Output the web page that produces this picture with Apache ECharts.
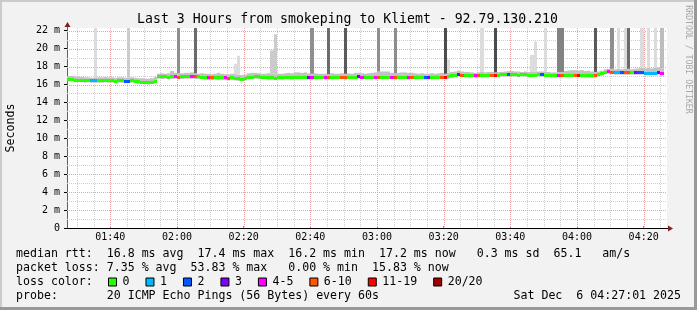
<!DOCTYPE html>
<html><head><meta charset="utf-8">
<script src="https://cdn.jsdelivr.net/npm/echarts@6/dist/echarts.min.js"></script>
<style>html,body{margin:0;padding:0;background:#f2f2f2}#c{width:697px;height:310px}</style>
</head><body><div id="c"></div><script>
// ---------------- data ----------------
const startTime = '01:27';           // first sample (1 sample per minute, 180 minutes shown)
const sampleCount = 180;
const xTickLabels = ['01:40','02:00','02:20','02:40','03:00','03:20','03:40','04:00','04:20'];
const yTicks = [0,2,4,6,8,10,12,14,16,18,20,22];
const yMax = 22.3;

// median rtt (ms) per minute
const median = [
16.55,16.55,16.5,16.5,16.45,16.4,16.45,16.4,16.4,16.4,
16.4,16.45,16.4,16.4,16.35,16.4,16.4,16.35,16.35,16.4,
16.35,16.3,16.25,16.25,16.2,16.25,16.35,16.85,16.85,16.85,
16.8,16.85,16.85,16.8,16.85,16.85,16.9,16.9,16.85,16.85,
16.8,16.8,16.75,16.75,16.75,16.8,16.75,16.75,16.7,16.75,
16.7,16.65,16.6,16.65,16.8,16.8,16.85,16.85,16.8,16.8,
16.75,16.75,16.7,16.75,16.75,16.8,16.8,16.75,16.8,16.8,
16.8,16.8,16.75,16.75,16.8,16.8,16.8,16.75,16.75,16.8,
16.8,16.8,16.8,16.75,16.8,16.8,16.8,16.85,16.8,16.8,
16.8,16.8,16.8,16.8,16.8,16.8,16.8,16.8,16.75,16.8,
16.8,16.8,16.75,16.8,16.8,16.8,16.8,16.75,16.75,16.8,
16.8,16.8,16.8,16.8,16.85,16.95,17.05,17.15,17.05,17.0,
17.0,17.0,16.95,17.0,17.0,17.0,17.05,17.05,17.05,17.05,
17.1,17.1,17.1,17.1,17.1,17.05,17.1,17.1,17.05,17.05,
17.05,17.1,17.1,17.05,17.05,17.0,17.0,17.0,17.0,17.05,
17.05,17.05,17.05,17.05,17.0,17.0,17.0,16.95,17.0,17.1,
17.2,17.35,17.4,17.35,17.3,17.3,17.3,17.3,17.3,17.3,
17.3,17.3,17.3,17.25,17.25,17.25,17.25,17.3,17.2,null];

// smoke band (upper / lower extent of the ping spread, ms)
const smokeHi = [
16.95,16.95,16.9,16.9,16.85,16.8,16.8,16.75,16.8,16.8,
16.8,16.85,16.8,16.8,16.75,16.8,16.8,16.75,16.8,16.8,
16.75,16.7,16.7,16.65,16.65,16.7,16.85,17.2,17.25,17.2,
17.25,17.5,17.3,17.25,17.25,17.3,17.3,17.35,17.25,17.2,
17.25,17.2,17.2,17.15,17.2,17.3,17.2,17.15,17.15,17.2,
17.15,17.1,17.05,17.1,17.25,17.3,17.3,17.25,17.2,17.2,
17.25,17.2,17.15,17.2,17.2,17.25,17.3,17.25,17.35,17.35,
17.3,17.35,17.25,17.2,17.25,17.2,17.2,17.2,17.15,17.25,
17.2,17.2,17.25,17.2,17.25,17.2,17.3,17.3,17.25,17.2,
17.25,17.3,17.35,17.45,17.45,17.45,17.45,17.3,17.25,17.3,
17.35,17.35,17.3,17.3,17.25,17.2,17.25,17.2,17.2,17.25,
17.2,17.25,17.3,17.2,17.3,17.4,17.45,17.55,17.45,17.4,
17.4,17.35,17.3,17.35,17.4,17.35,17.4,17.4,17.35,17.4,
17.4,17.45,17.5,17.5,17.45,17.45,17.4,17.45,17.4,17.4,
17.4,17.45,17.45,17.4,17.4,17.35,17.35,17.4,17.4,17.5,
17.55,17.6,17.6,17.55,17.6,17.5,17.55,17.45,17.4,17.45,
17.55,17.7,17.75,17.75,17.7,17.75,17.7,17.75,17.75,17.7,
17.75,17.8,17.85,17.8,17.85,17.8,17.85,17.9,17.8,null];
const smokeLo = [
16.35,16.35,16.3,16.3,16.25,16.2,16.25,16.2,16.2,16.2,
16.2,16.25,16.2,16.2,16.15,16.2,16.2,16.15,16.15,16.2,
16.15,16.1,16.05,16.05,16.0,16.05,16.15,16.65,16.6,16.65,
16.6,16.6,16.65,16.6,16.6,16.65,16.65,16.65,16.6,16.6,
16.6,16.55,16.5,16.5,16.55,16.5,16.5,16.5,16.45,16.5,
16.45,16.4,16.4,16.45,16.6,16.6,16.65,16.6,16.6,16.6,
16.55,16.55,16.5,16.55,16.55,16.6,16.6,16.55,16.6,16.6,
16.6,16.6,16.55,16.55,16.6,16.6,16.6,16.55,16.55,16.6,
16.6,16.6,16.6,16.55,16.6,16.6,16.6,16.65,16.6,16.6,
16.6,16.6,16.6,16.6,16.6,16.6,16.6,16.6,16.55,16.6,
16.6,16.6,16.55,16.6,16.6,16.6,16.6,16.55,16.55,16.6,
16.6,16.6,16.6,16.6,16.65,16.75,16.85,16.9,16.85,16.8,
16.8,16.8,16.75,16.8,16.8,16.8,16.85,16.85,16.85,16.85,
16.9,16.9,16.9,16.9,16.9,16.85,16.9,16.9,16.85,16.85,
16.85,16.9,16.9,16.85,16.85,16.8,16.8,16.8,16.8,16.85,
16.85,16.85,16.85,16.85,16.8,16.8,16.8,16.75,16.8,16.9,
17.0,17.15,17.2,17.15,17.1,17.1,17.1,17.1,17.1,17.1,
17.1,17.1,17.1,17.05,17.05,17.05,17.05,17.1,17.0,null];

// lost pings (of 20) per minute
const lossPings = [
0,0,0,0,0,0,0,1,1,0,
0,0,0,0,0,0,0,2,2,0,
0,0,0,0,0,0,0,0,0,0,
0,0,5,8,0,0,0,5,8,0,
0,0,5,8,0,0,0,5,8,0,
0,0,0,0,0,0,0,0,0,0,
0,0,0,0,0,0,0,0,0,0,
0,0,3,5,0,0,0,5,8,0,
0,0,8,8,0,0,0,3,5,0,
0,0,5,8,0,0,0,5,8,0,
0,0,5,8,0,0,0,2,3,0,
0,0,8,12,0,0,0,3,8,0,
0,0,5,8,0,0,0,8,12,0,
0,0,2,0,0,0,0,0,0,0,
0,0,2,0,0,0,0,5,8,0,
0,0,8,12,0,0,0,0,8,0,
0,0,5,8,1,1,2,8,8,0,
3,2,2,1,1,1,1,3,5,null];

// outlier pings (sample index, highest rtt in ms, number of pings up there)
const spikeIdx   = [8,18,33,38,50,51,61,62,73,78,83,93,98,113,114,124,128,139,140,143,147,148,158,163,165,167,168,172,174,176,178];
const spikeTop   = [25,25,25,25,18.3,19.2,19.8,21.6,25,25,25,25,25,25,18.8,25,25,19.3,20.8,25,25,25,25,25,25,25,25,25,25,25,25];
const spikePings = [1,2,5,7,1,1,2,2,5,7,8,5,5,9,1,1,9,1,1,1,6,6,8,5,1,1,7,1,1,1,3];

const lossNames  = ['0','1','2','3','4-5','6-10','11-19','20/20'];
const lossColors = ['#26ff00','#00b8ff','#0059ff','#7e00ff','#ff00ff','#ff5500','#ff0000','#a00000'];

// ---------------- helpers ----------------
const toMin = s => { const p = s.split(':'); return (+p[0]) * 60 + (+p[1]); };
const x0 = toMin(startTime), x1 = x0 + sampleCount;
const fmtMin = v => { const h = Math.floor(v / 60), m = Math.round(v % 60); return (h < 10 ? '0' : '') + h + ':' + (m < 10 ? '0' : '') + m; };
const lossClass = n => n === 0 ? 0 : n === 1 ? 1 : n === 2 ? 2 : n === 3 ? 3 : n <= 5 ? 4 : n <= 10 ? 5 : n <= 19 ? 6 : 7;
const shadeFor = n => n <= 1 ? '#dcdcdc' : n === 2 ? '#cbcbcb' : n === 3 ? '#bdbdbd' : n <= 5 ? '#8e8e8e' : n === 6 ? '#828282' : n === 7 ? '#6b6b6b' : n === 8 ? '#5a5a5a' : '#4c4c4c';

const MONO = '"DejaVu Sans Mono"';
const smokeData = [], spikeData = [];
median.forEach((m, i) => { if (m != null) smokeData.push([x0 + i, smokeLo[i], smokeHi[i]]); });
spikeIdx.forEach((idx, k) => spikeData.push([x0 + idx, smokeHi[idx], spikeTop[k], spikePings[k]]));

const MINOR = '#cfcfcf', MAJOR = '#eba3a3';
const rx = v => Math.round(v);

const series = [
  // background grid (dotted, like rrdtool)
  { type: 'custom', z: 1, clip: false, silent: true, animation: false, data: [[x0, 0]],
    renderItem: (p, api) => {
      const children = [];
      const top = Math.round(api.coord([x0, yMax])[1]), bot = Math.round(api.coord([x0, 0])[1]);
      const left = Math.round(api.coord([x0, 0])[0]), right = Math.round(api.coord([x1, 0])[0]);
      for (let m = Math.ceil(x0 / 5) * 5; m < x1; m += 5) {
        const x = Math.round(api.coord([m, 0])[0]) + 0.5;
        children.push({ type: 'line', shape: { x1: x, y1: top, x2: x, y2: bot }, style: { stroke: m % 20 === 0 ? MAJOR : MINOR, lineWidth: 1, lineDash: [1, 1] } });
      }
      for (let v = 1; v < yMax; v += 1) {
        const y = Math.round(api.coord([x0, v])[1]) + 0.5;
        children.push({ type: 'line', shape: { x1: left, y1: y, x2: right, y2: y }, style: { stroke: v % 2 === 0 ? MAJOR : MINOR, lineWidth: 1, lineDash: [1, 1] } });
      }
      return { type: 'group', children };
    } },
  { type: 'custom', z: 2, clip: true, silent: true, animation: false, data: smokeData,
    renderItem: (p, api) => {
      const a = api.coord([api.value(0), api.value(2)]), b = api.coord([api.value(0) + 1, api.value(1)]);
      return { type: 'rect', shape: { x: rx(a[0]), y: a[1], width: rx(b[0]) - rx(a[0]), height: b[1] - a[1] }, style: { fill: '#c2c2c2' } };
    } },
  { type: 'custom', z: 3, clip: true, silent: true, animation: false, data: spikeData,
    renderItem: (p, api) => {
      const a = api.coord([api.value(0), api.value(2)]), b = api.coord([api.value(0) + 1, api.value(1)]);
      return { type: 'rect', shape: { x: rx(a[0]), y: a[1], width: rx(b[0]) - rx(a[0]), height: b[1] - a[1] }, style: { fill: shadeFor(api.value(3)) } };
    } }
];
lossNames.forEach((name, c) => {
  const d = [];
  median.forEach((m, i) => { if (m != null && lossClass(lossPings[i]) === c) d.push([x0 + i, m]); });
  series.push({ type: 'custom', name, z: 4, clip: true, silent: true, animation: false, data: d,
    itemStyle: { color: lossColors[c] },
    renderItem: (p, api) => {
      const a = api.coord([api.value(0), api.value(1)]), b = api.coord([api.value(0) + 1, api.value(1)]);
      return { type: 'rect', shape: { x: rx(a[0]), y: Math.round(a[1] - 1.5), width: rx(b[0]) - rx(a[0]), height: 3 }, style: { fill: api.visual('color') } };
    } });
});
// axis arrows
series.push({ type: 'custom', z: 6, clip: false, silent: true, animation: false, data: [[x0, 0]],
  renderItem: (p, api) => {
    const o = api.coord([x0, 0]), e = api.coord([x1, 0]), t = api.coord([x0, yMax]);
    const ox = Math.round(o[0]) + 0.5, oy = Math.round(o[1]) + 0.5, ex = Math.round(e[0]), ty = Math.round(t[1]);
    return { type: 'group', children: [
      { type: 'line', shape: { x1: ex, y1: oy, x2: ex + 2, y2: oy }, style: { stroke: '#000', lineWidth: 1 } },
      { type: 'line', shape: { x1: ox, y1: ty, x2: ox, y2: ty - 2 }, style: { stroke: '#606060', lineWidth: 1 } },
      { type: 'polygon', shape: { points: [[ex + 1, oy - 3], [ex + 6, oy], [ex + 1, oy + 3]] }, style: { fill: '#8b1a1a' } },
      { type: 'polygon', shape: { points: [[ox - 3, ty - 1], [ox, ty - 6], [ox + 3, ty - 1]] }, style: { fill: '#8b1a1a' } }
    ] };
  } });

const txt = (x, y, text, extra) => Object.assign({ type: 'text', x, y, silent: true,
  style: Object.assign({ text, font: '11.6px ' + MONO, fill: '#000', align: 'left', verticalAlign: 'middle', textAlign: 'left', textVerticalAlign: 'middle' }, extra || {}) });

const graphic = [
  { type: 'rect', shape: { x: 0, y: 0, width: 697, height: 2 }, style: { fill: '#cbcbcb' }, silent: true },
  { type: 'rect', shape: { x: 0, y: 0, width: 2, height: 310 }, style: { fill: '#cbcbcb' }, silent: true },
  { type: 'rect', shape: { x: 0, y: 307, width: 697, height: 3 }, style: { fill: '#999999' }, silent: true },
  { type: 'rect', shape: { x: 694, y: 0, width: 3, height: 310 }, style: { fill: '#999999' }, silent: true },
  txt(347.5, 19.5, 'Last 3 Hours from smokeping to Kliemt - 92.79.130.210', { font: '13.2px ' + MONO, align: 'center', textAlign: 'center' }),
  Object.assign(txt(0, 0, 'Seconds', { align: 'center', textAlign: 'center' }), { x: 11, y: 128, rotation: Math.PI / 2 }),
  Object.assign(txt(0, 0, 'RRDTOOL / TOBI OETIKER', { font: '8.2px ' + MONO, fill: '#a8a8a8', align: 'center', textAlign: 'center' }), { x: 688, y: 59.5, rotation: -Math.PI / 2 }),
  txt(16, 253.7, 'median rtt:  16.8 ms avg  17.4 ms max  16.2 ms min  17.2 ms now   0.3 ms sd  65.1   am/s'),
  txt(16, 268, 'packet loss: 7.35 % avg  53.83 % max   0.00 % min  15.83 % now'),
  txt(16, 282, 'loss color:'),
  txt(16, 296.3, 'probe:       20 ICMP Echo Pings (56 Bytes) every 60s'),
  txt(681, 296.3, 'Sat Dec  6 04:27:01 2025', { align: 'right', textAlign: 'right' })
];

const chart = echarts.init(document.getElementById('c'), null, { renderer: 'canvas' });
chart.setOption({
  backgroundColor: '#f2f2f2',
  animation: false,
  grid: { left: 67, top: 28, width: 600, height: 200, show: true, backgroundColor: '#ffffff', borderWidth: 0, containLabel: false },
  legend: { show: true, left: 108, top: 276, padding: 0, itemWidth: 8, itemHeight: 8, itemGap: 16, icon: 'rect', selectedMode: false,
    itemStyle: { borderColor: '#000', borderWidth: 1 },
    textStyle: { fontFamily: MONO, fontSize: 11.6, color: '#000', padding: [0, 0, 0, 1] },
    data: lossNames },
  xAxis: { type: 'value', min: x0, max: x1,
    axisLine: { show: true, lineStyle: { color: '#000', width: 1 } },
    axisTick: { show: true, customValues: xTickLabels.map(toMin), length: 2, inside: true, lineStyle: { color: '#e07070' } },
    axisLabel: { customValues: xTickLabels.map(toMin), formatter: v => fmtMin(v), fontFamily: MONO, fontSize: 10, color: '#000', margin: 4 },
    splitLine: { show: false } },
  yAxis: { type: 'value', min: 0, max: yMax,
    axisLine: { show: true, lineStyle: { color: '#606060', width: 1 } },
    axisTick: { show: true, customValues: yTicks, length: 3, lineStyle: { color: '#000' } },
    axisLabel: { customValues: yTicks, formatter: v => v === 0 ? '0' : v + ' m', fontFamily: MONO, fontSize: 10, color: '#000', margin: 7 },
    splitLine: { show: false } },
  series,
  graphic
});
</script></body></html>
